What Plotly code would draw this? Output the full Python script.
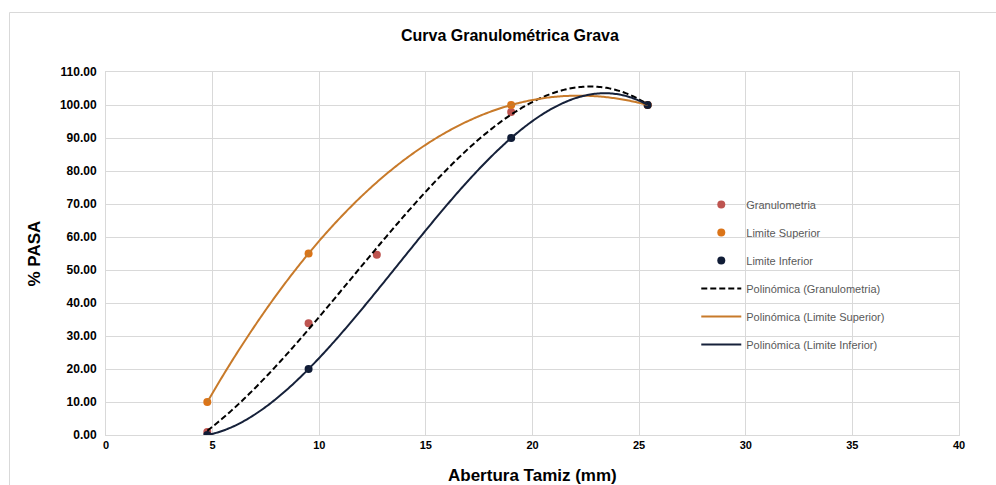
import numpy as np
import plotly.graph_objects as go

# Data
gran_x = [4.75, 9.5, 12.7, 19.0, 25.4]
gran_y = [0.9, 33.9, 54.6, 97.9, 100.0]
sup_x = [4.75, 9.5, 19.0, 25.4]
sup_y = [10.0, 55.0, 100.0, 100.0]
inf_x = [4.75, 9.5, 19.0, 25.4]
inf_y = [0.0, 20.0, 90.0, 100.0]

x_ticks = [0, 5, 10, 15, 20, 25, 30, 35, 40]
y_ticks = [0, 10, 20, 30, 40, 50, 60, 70, 80, 90, 100, 110]

c_gran = "#BE5450"
c_sup = "#DB7418"
c_inf = "#101C36"
c_sup_line = "#C87A2A"
c_inf_line = "#16213A"


def trend(xs, ys, deg=3):
    coef = np.polyfit(xs, ys, deg)
    xx = np.linspace(min(xs), max(xs), 300)
    return xx, np.polyval(coef, xx)


fig = go.Figure()
lf = dict(family="Liberation Sans, Arial", size=11, color="#595959")

fig.add_trace(go.Scatter(x=gran_x, y=gran_y, mode="markers", name="Granulometria",
                         legendgroup="a", marker=dict(color=c_gran, size=8)))
fig.add_trace(go.Scatter(x=sup_x, y=sup_y, mode="markers", name="Limite Superior",
                         legendgroup="b", marker=dict(color=c_sup, size=8)))
fig.add_trace(go.Scatter(x=inf_x, y=inf_y, mode="markers", name="Limite Inferior",
                         legendgroup="c", marker=dict(color=c_inf, size=8)))

gx, gy = trend(gran_x, gran_y)
sx, sy = trend(sup_x, sup_y)
ix, iy = trend(inf_x, inf_y)
fig.add_trace(go.Scatter(x=gx, y=gy, mode="lines", name="Polinómica (Granulometria)",
                         legendgroup="d", line=dict(color="#000000", width=2, dash="6px,3px", simplify=False)))
fig.add_trace(go.Scatter(x=sx, y=sy, mode="lines", name="Polinómica (Limite Superior)",
                         legendgroup="e", line=dict(color=c_sup_line, width=2, simplify=False)))
fig.add_trace(go.Scatter(x=ix, y=iy, mode="lines", name="Polinómica (Limite Inferior)",
                         legendgroup="f", line=dict(color=c_inf_line, width=2, simplify=False)))

fig.update_layout(
    width=996, height=485,
    margin=dict(l=106, r=37, t=72, b=50),
    paper_bgcolor="white", plot_bgcolor="white",
    title=dict(text="<b>Curva Granulométrica Grava</b>", x=0.512, xanchor="center",
               y=1 - 35 / 485, yanchor="middle",
               font=dict(family="Liberation Sans, Arial", size=16, color="#000000")),
    showlegend=True,
    legend=dict(x=0.692, y=0.675, xanchor="left", yanchor="top",
                font=lf, bgcolor="rgba(0,0,0,0)", tracegroupgap=9,
                itemwidth=40),
    font=dict(family="Liberation Sans, Arial"),
)

fig.update_xaxes(range=[0, 40], tickvals=x_ticks, ticktext=[str(v) for v in x_ticks],
                 showgrid=True, gridcolor="#D9D9D9", gridwidth=1, automargin=False,
                 showline=True, linecolor="#D9D9D9", mirror=True, zeroline=False,
                 ticks="", tickfont=dict(family="Liberation Sans Narrow, Liberation Sans", size=11, color="#000000", weight="bold"))
fig.update_yaxes(range=[0, 110], tickvals=y_ticks, ticktext=[f"{v:.2f}" for v in y_ticks],
                 showgrid=True, gridcolor="#D9D9D9", gridwidth=1, automargin=False,
                 showline=True, linecolor="#D9D9D9", mirror=True, zeroline=False,
                 ticks="", ticklabelstandoff=6,
                 tickfont=dict(family="Liberation Sans, Arial", size=12, color="#000000", weight="bold"))

# Axis titles
fig.add_annotation(text="<b>Abertura Tamiz (mm)</b>", xref="paper", yref="paper",
                   x=0.5, y=-(475 - 435) / 363, xanchor="center", yanchor="middle",
                   showarrow=False, font=dict(family="Liberation Sans, Arial", size=17, color="#000000"))
fig.add_annotation(text="<b>% PASA</b>", xref="paper", yref="paper",
                   x=-(106 - 34) / 853, y=0.5, xanchor="center", yanchor="middle", textangle=-90,
                   showarrow=False, font=dict(family="Liberation Sans, Arial", size=17, color="#000000"))

# Chart area border
fig.add_shape(type="rect", xref="paper", yref="paper",
              x0=(9.5 - 106) / 853, x1=1.3, y0=-0.3, y1=(435 - 12.5) / 363,
              line=dict(color="#D9D9D9", width=1), fillcolor="rgba(0,0,0,0)", layer="below")

fig.write_html("out.html")
